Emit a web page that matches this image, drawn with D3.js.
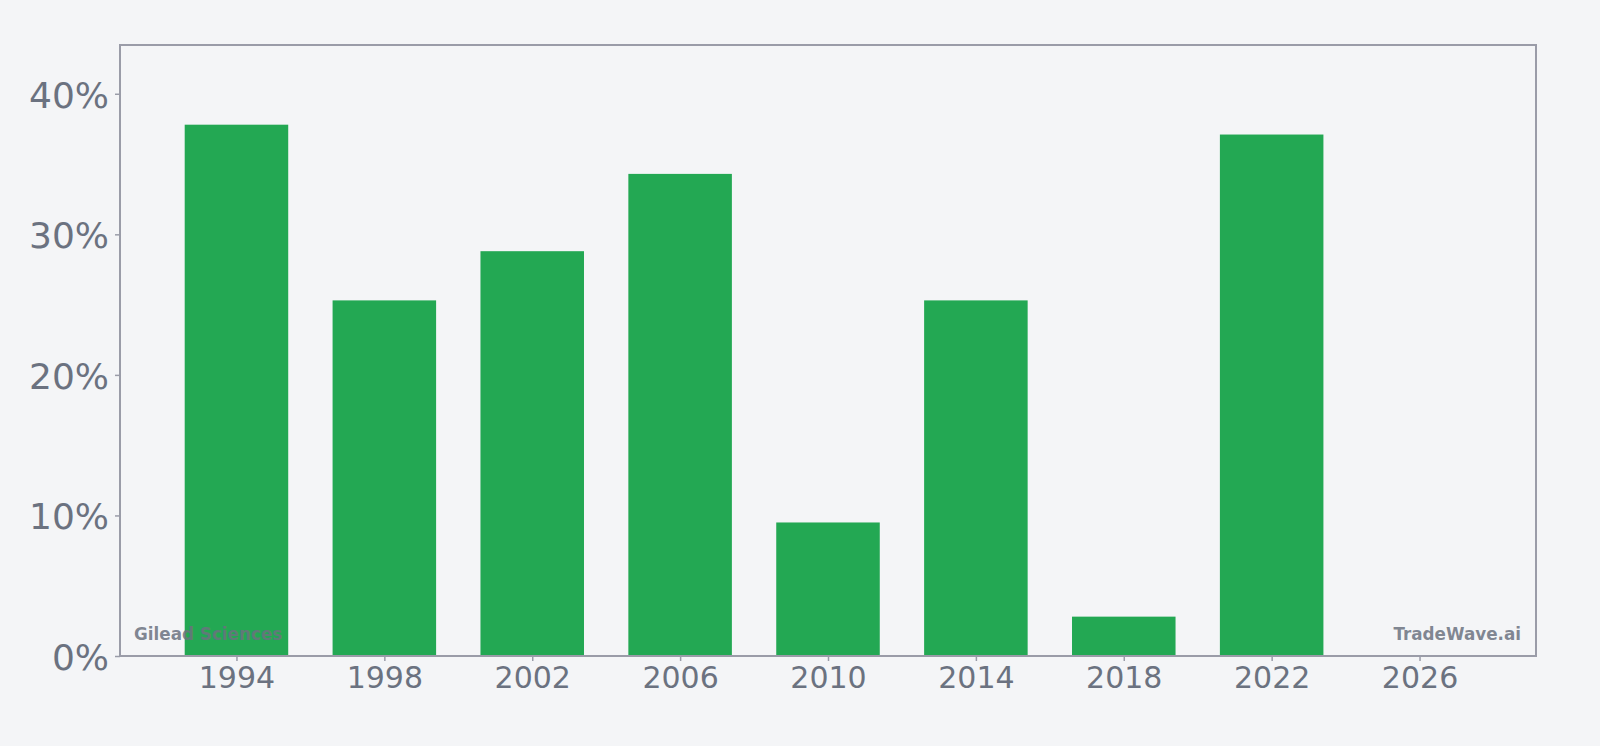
<!DOCTYPE html>
<html>
<head>
<meta charset="utf-8">
<script src="https://cdn.jsdelivr.net/npm/d3@7"></script>
<style>
  html, body { margin: 0; padding: 0; background: #f4f5f7; }
  svg { display: block; }
</style>
</head>
<body>
<div id="chart"></div>
<script>
// data
var years = [1994, 1998, 2002, 2006, 2010, 2014, 2018, 2022];
var values = [37.8, 25.3, 28.8, 34.3, 9.5, 25.3, 2.8, 37.1];
var xTicks = [1994, 1998, 2002, 2006, 2010, 2014, 2018, 2022, 2026];
var yTicks = [0, 10, 20, 30, 40];

var width = 1600, height = 746;
var margin = {top: 45, right: 64, bottom: 90, left: 120};
var innerW = width - margin.left - margin.right,
    innerH = height - margin.top - margin.bottom;

var svg = d3.select("#chart")
  .append("svg")
    .attr("width", width)
    .attr("height", height)
    .style("background", "#f4f5f7");

var g = svg.append("g")
    .attr("transform", "translate(" + margin.left + "," + margin.top + ")");

var x = d3.scaleLinear()
    .domain([1990.85, 2029.15])
    .range([0, innerW]);

var y = d3.scaleLinear()
    .domain([0, d3.max(values) * 1.15])
    .range([innerH, 0]);

var barW = x(1994 + 2.8) - x(1994);

// bars
g.selectAll("rect.bar")
  .data(years)
  .enter()
  .append("rect")
    .attr("class", "bar")
    .attr("x", function (d) { return x(d) - barW / 2; })
    .attr("y", function (d, i) { return y(values[i]); })
    .attr("width", barW)
    .attr("height", function (d, i) { return innerH - y(values[i]); })
    .style("fill", "#23a853");

// watermarks
g.append("text")
    .attr("x", 14)
    .attr("y", innerH - 16)
    .text("Gilead Sciences")
    .attr("font-family", "DejaVu Sans")
    .attr("font-weight", "bold")
    .attr("font-size", "16.8px")
    .attr("fill", "#6b7280")
    .attr("fill-opacity", 0.85);

g.append("text")
    .attr("x", innerW - 15)
    .attr("y", innerH - 16)
    .attr("text-anchor", "end")
    .text("TradeWave.ai")
    .attr("font-family", "DejaVu Sans")
    .attr("font-weight", "bold")
    .attr("font-size", "16.8px")
    .attr("fill", "#6b7280")
    .attr("fill-opacity", 0.85);

// frame
g.append("rect")
    .attr("width", innerW)
    .attr("height", innerH)
    .style("fill", "none")
    .style("stroke", "#9a9ca8")
    .style("stroke-width", 2);

// axes
var xAxis = g.append("g")
    .attr("transform", "translate(0," + innerH + ")")
    .call(d3.axisBottom(x).tickValues(xTicks).tickFormat(d3.format("d")).tickSize(5).tickPadding(6));

var yAxis = g.append("g")
    .call(d3.axisLeft(y).tickValues(yTicks).tickFormat(function (d) { return d + "%"; }).tickSize(5).tickPadding(6));

[xAxis, yAxis].forEach(function (a) {
  a.select(".domain").remove();
  a.selectAll("line").style("stroke", "#9a9ca8").style("stroke-width", 1.5);
  a.selectAll("text")
    .attr("font-family", "DejaVu Sans")
    .attr("fill", "#6b7280");
});
xAxis.selectAll("text").attr("font-size", "30px");
yAxis.selectAll("text").attr("font-size", "36px").attr("dy", "0.37em");
</script>
</body>
</html>
